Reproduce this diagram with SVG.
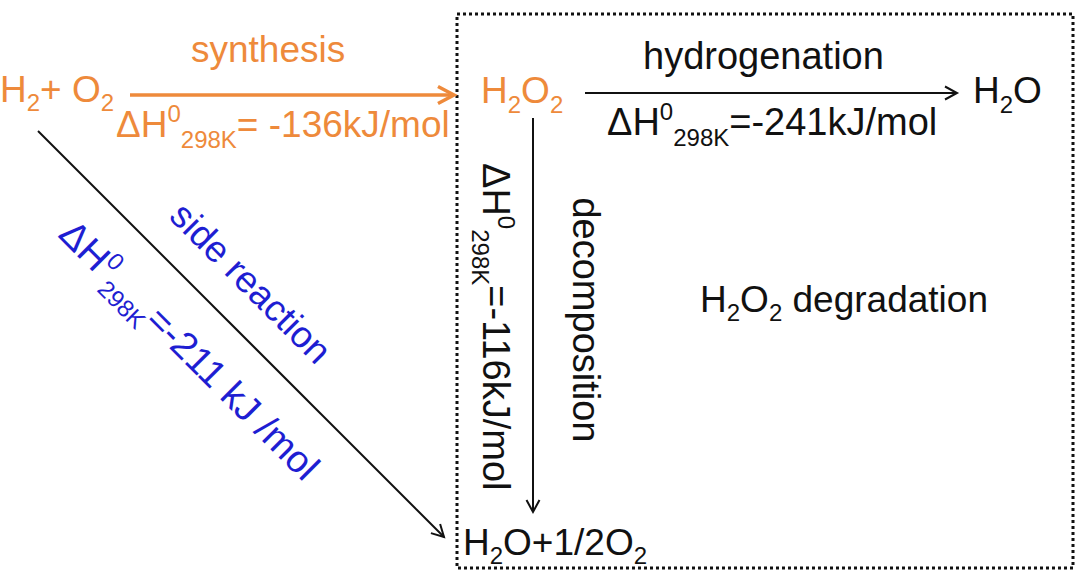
<svg xmlns="http://www.w3.org/2000/svg" width="1080" height="580" viewBox="0 0 1080 580">
<style>
text{font-family:"Liberation Sans",Arial,sans-serif;font-size:37px;fill:#111}
.or{fill:#EE8A3B}
.bl{fill:#1E1ED2}
.lbl{font-size:38px}
.s{font-size:24px}
.conn{fill:none;stroke:#111;stroke-width:2}
.conn-or{fill:none;stroke:#EE8A3B;stroke-width:3.5}
</style>
<defs>
<marker id="ah" markerUnits="userSpaceOnUse" markerWidth="20" markerHeight="20" refX="14" refY="8" orient="auto" overflow="visible">
<path d="M2,1.5 L14,8 L2,14.5" fill="none" stroke="#111" stroke-width="2"/>
</marker>
<marker id="ah-or" markerUnits="userSpaceOnUse" markerWidth="24" markerHeight="24" refX="17" refY="10" orient="auto" overflow="visible">
<path d="M1,1.5 L17,10 L1,18.5" fill="none" stroke="#EE8A3B" stroke-width="3.5"/>
</marker>
</defs>
<rect width="1080" height="580" fill="#fff"/>

<g id="degradation-box">
<rect x="457" y="14" width="616" height="554" fill="none" stroke="#111" stroke-width="3" stroke-dasharray="3 3"/>
<text x="700" y="312">H<tspan class="s" dy="9">2</tspan><tspan dy="-9">O</tspan><tspan class="s" dy="9">2</tspan><tspan dy="-9"> degradation</tspan></text>
</g>

<g id="node-reactants">
<text class="or" x="0" y="102">H<tspan class="s" dy="9">2</tspan><tspan dy="-9">+ O</tspan><tspan class="s" dy="9">2</tspan></text>
</g>

<g id="node-h2o2">
<text class="or" x="481" y="103">H<tspan class="s" dy="10">2</tspan><tspan dy="-10">O</tspan><tspan class="s" dy="10">2</tspan></text>
</g>

<g id="node-h2o">
<text x="973" y="103">H<tspan class="s" dy="10">2</tspan><tspan dy="-10">O</tspan></text>
</g>

<g id="node-products">
<text x="463" y="555">H<tspan class="s" dy="9">2</tspan><tspan dy="-9">O+1/2O</tspan><tspan class="s" dy="9">2</tspan></text>
</g>

<g id="connectors">
<g id="edge-synthesis">
<line class="conn-or" x1="130" y1="95" x2="454" y2="95" marker-end="url(#ah-or)"/>
<text class="or" x="191" y="62">synthesis</text>
<text class="or" x="116" y="137">ΔH<tspan class="s" dy="-15">0</tspan><tspan class="s" dy="26">298K</tspan><tspan dy="-11">= -136kJ/mol</tspan></text>
</g>
<g id="edge-hydrogenation">
<line class="conn" x1="585" y1="93" x2="957" y2="93" marker-end="url(#ah)"/>
<text class="lbl" x="643" y="69">hydrogenation</text>
<text class="lbl" x="607" y="135">ΔH<tspan class="s" dy="-15">0</tspan><tspan class="s" dy="26">298K</tspan><tspan dy="-11">=-241kJ/mol</tspan></text>
</g>
<g id="edge-decomposition">
<line class="conn" x1="533" y1="118" x2="533" y2="512" marker-end="url(#ah)"/>
<text class="lbl" x="573" y="320" text-anchor="middle" transform="rotate(90 573 320)">decomposition</text>
<text class="lbl" x="483" y="163" transform="rotate(90 483 163)">ΔH<tspan class="s" dy="-15">0</tspan><tspan class="s" dy="26">298K</tspan><tspan dy="-11">=-116kJ/mol</tspan></text>
</g>
<g id="edge-side-reaction">
<line class="conn" x1="38" y1="131" x2="444" y2="537" marker-end="url(#ah)"/>
<text class="bl" x="242" y="292" text-anchor="middle" transform="rotate(45 242 292)">side reaction</text>
<text class="bl lbl" x="57" y="236" transform="rotate(45 57 236)">ΔH<tspan class="s" dy="-15">0</tspan><tspan class="s" dy="26">298K</tspan><tspan dy="-11">=-211 kJ /mol</tspan></text>
</g>
</g>
</svg>
